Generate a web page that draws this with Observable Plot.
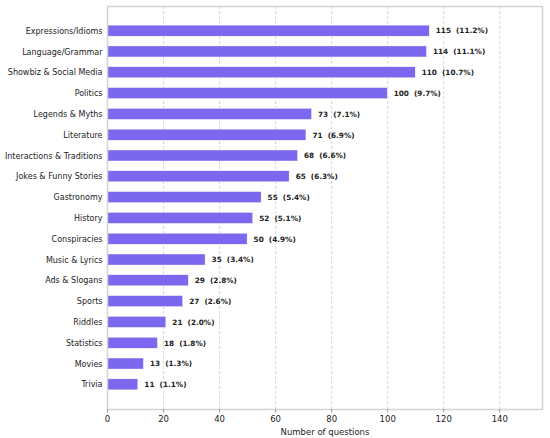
<!DOCTYPE html>
<html>
<head>
<meta charset="utf-8">
<script src="https://cdn.jsdelivr.net/npm/d3@7"></script>
<script src="https://cdn.jsdelivr.net/npm/@observablehq/plot@0.6"></script>
<style>
  html, body { margin: 0; padding: 0; background: #fff; }
  svg { font-family: "DejaVu Sans", sans-serif; }
</style>
</head>
<body>
<div id="chart"></div>
<script>
const categories = [
  "Expressions/Idioms", "Language/Grammar", "Showbiz & Social Media", "Politics",
  "Legends & Myths", "Literature", "Interactions & Traditions", "Jokes & Funny Stories",
  "Gastronomy", "History", "Conspiracies", "Music & Lyrics", "Ads & Slogans",
  "Sports", "Riddles", "Statistics", "Movies", "Trivia"
];
const counts = [115, 114, 110, 100, 73, 71, 68, 65, 55, 52, 50, 35, 29, 27, 21, 18, 13, 11];
const xTicks = [0, 20, 40, 60, 80, 100, 120, 140];

const total = d3.sum(counts);
const data = categories.map((c, i) => ({
  category: c,
  count: counts[i],
  label: `${counts[i]}  (${(counts[i] / total * 100).toFixed(1)}%)`
}));

const chart = Plot.plot({
  width: 550,
  height: 438,
  marginLeft: 107,
  marginRight: 8,
  marginTop: 6,
  marginBottom: 29,
  style: { fontFamily: "DejaVu Sans, sans-serif", fontSize: "8px", color: "#222", background: "#fff" },
  x: { domain: [0, 115 * 1.35], ticks: xTicks, label: null },
  y: { domain: categories, paddingInner: 0.47, paddingOuter: 0.92, round: false, label: null },
  marks: [
    Plot.ruleX(xTicks, { stroke: "#cccccc", strokeWidth: 0.8, strokeDasharray: "3,2" }),
    Plot.barX(data, { x: "count", y: "category", fill: "#7B68EE", stroke: "#ffffff", strokeWidth: 0.4 }),
    Plot.text(data, { x: "count", y: "category", text: "label", textAnchor: "start", dx: 6, fontWeight: "bold", fontSize: 7.3, fill: "#222" }),
    Plot.frame({ stroke: "#d4d4d4", strokeWidth: 1.5 }),
    Plot.axisY({ tickSize: 0, tickPadding: 5, label: null, fontSize: 8 }),
    Plot.axisX({ ticks: xTicks, tickSize: 3.5, tickPadding: 3, stroke: "#999", label: null, fontSize: 8.5 }),
    Plot.axisX({ ticks: [], label: "Number of questions", labelAnchor: "center", labelArrow: "none", labelOffset: 25, fontSize: 8.5 })
  ]
});
document.getElementById("chart").appendChild(chart);
</script>
</body>
</html>
